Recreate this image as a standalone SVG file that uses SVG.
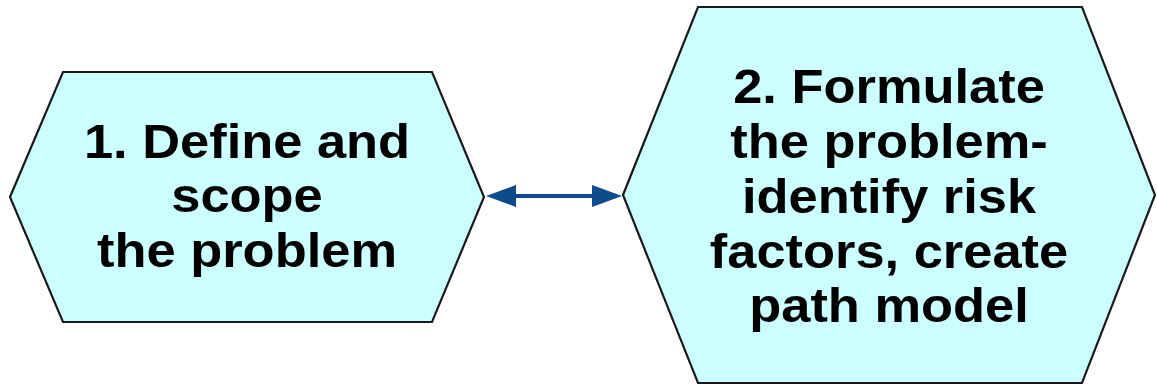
<svg xmlns="http://www.w3.org/2000/svg" width="1157" height="388" viewBox="0 0 1157 388">
<style>
.hex{fill:#ccffff;stroke:#1a1a1a;stroke-width:2.2;stroke-linejoin:miter}
.lbl{font-family:"Liberation Sans",Arial,sans-serif;font-weight:bold;font-size:49px;fill:#000;text-anchor:middle}
.conn{stroke:#0d4b8c;stroke-width:4;fill:none}
.head{fill:#0d4b8c}
</style>
<rect width="1157" height="388" fill="#ffffff"/>
<g id="node1">
<polygon class="hex" points="10,197 63,72 432,72 484,197 432,322 63,322"/>
<g transform="translate(247,0) scale(1.07,1)">
<text class="lbl" x="0" y="158">1. Define and</text>
<text class="lbl" x="0" y="212">scope</text>
<text class="lbl" x="0" y="267">the problem</text>
</g>
</g>
<g id="node2">
<polygon class="hex" points="623,195 698,7 1082,7 1155,195 1082,383 698,383"/>
<g transform="translate(889,0) scale(1.07,1)">
<text class="lbl" x="0" y="103">2. Formulate</text>
<text class="lbl" x="0" y="158">the problem-</text>
<text class="lbl" x="0" y="213">identify risk</text>
<text class="lbl" x="0" y="268">factors, create</text>
<text class="lbl" x="0" y="322">path model</text>
</g>
</g>
<g id="connectors">
<line class="conn" x1="510" y1="196" x2="598" y2="196"/>
<polygon class="head" points="486,196 516,185 516,207"/>
<polygon class="head" points="622,196 592,185 592,207"/>
</g>
</svg>
